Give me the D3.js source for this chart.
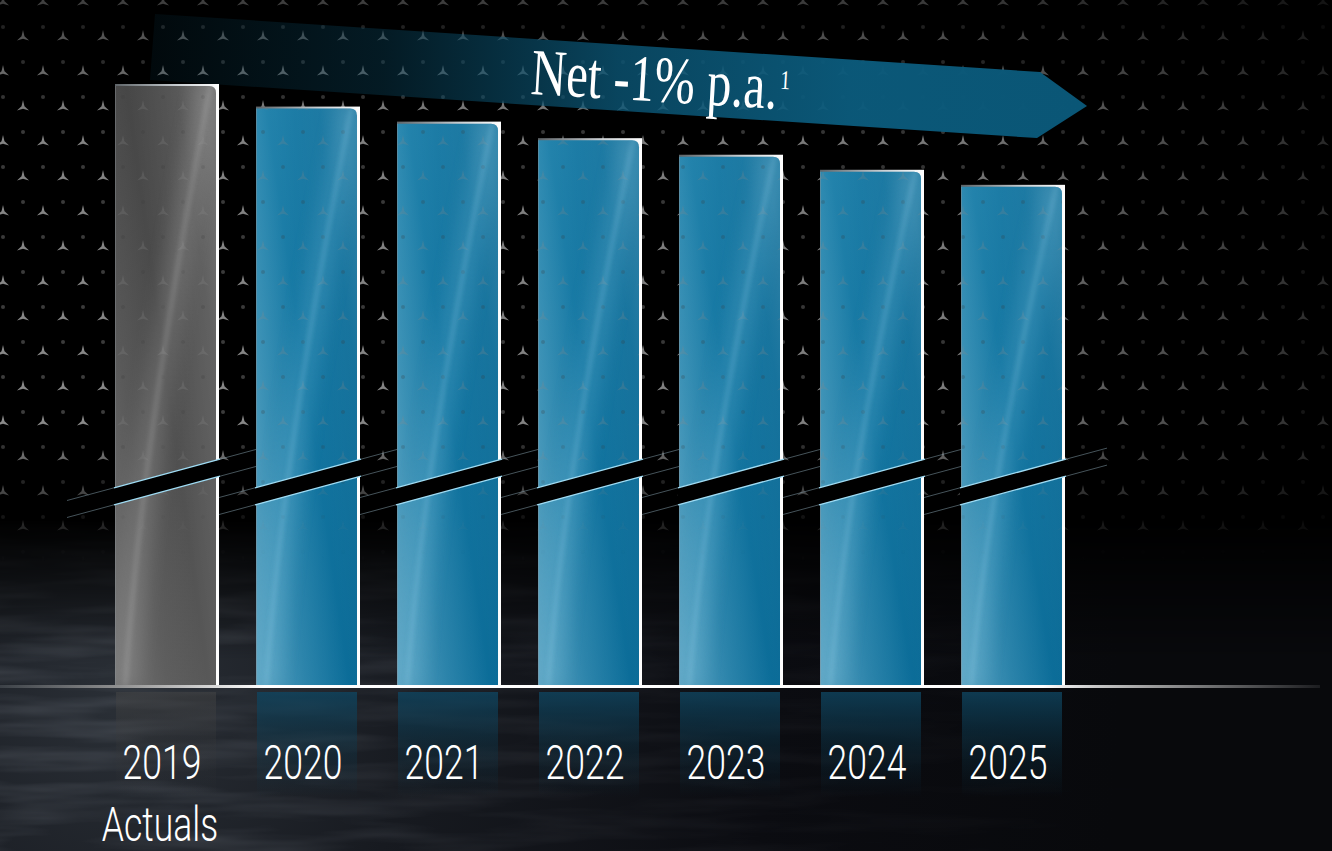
<!DOCTYPE html>
<html>
<head>
<meta charset="utf-8">
<script src="https://cdn.jsdelivr.net/npm/d3@7"></script>
<style>
  html, body { margin: 0; padding: 0; background: #000; overflow: hidden; }
  svg { display: block; }
</style>
</head>
<body>
<svg id="chart" width="1332" height="851"></svg>
<script>
// ---- data ----
const years = ["2019", "2020", "2021", "2022", "2023", "2024", "2025"];
const subLabels = ["Actuals", "", "", "", "", "", ""];
const values = [100, 98.5, 97.5, 96.4, 95.3, 94.3, 93.3];   // cost index, 2019 = 100
const titleText = "Net -1% p.a.";
const titleNote = "1";

// ---- layout ----
const W = 1332, H = 851;
const baseY = 686, topY = 84;
const breakY = 482;           // centre of the axis-break band
const breakSlope = 0.27;

const svg = d3.select("#chart");
const defs = svg.append("defs");

const x = d3.scaleBand().domain(years).range([115, 1065]).paddingInner(0.2624).paddingOuter(0);
const y = d3.scaleLinear().domain([60, 100]).range([baseY, topY]);

// ---- defs: star pattern ----
const pat = defs.append("pattern").attr("id", "stars")
  .attr("patternUnits", "userSpaceOnUse").attr("x", 3).attr("y", 2)
  .attr("width", 40).attr("height", 70);
function starPath(cx, cy, r, ri) {
  const pts = [];
  for (let k = 0; k < 6; k++) {
    const a = -Math.PI / 2 + k * Math.PI / 3;
    const rr = k % 2 ? ri : r;
    pts.push([cx + rr * Math.cos(a), cy + rr * Math.sin(a)]);
  }
  return "M" + pts.map(p => p.join(",")).join("L") + "Z";
}
[[0, 0], [40, 0], [0, 70], [40, 70], [20, 35]].forEach(([cx, cy]) => {
  pat.append("path").attr("d", starPath(cx, cy, 7, 1.7)).attr("fill", "#8a8a8a");
});
[[20, 60], [0, 25], [40, 25]].forEach(([cx, cy]) => {
  pat.append("circle").attr("cx", cx).attr("cy", cy).attr("r", 2).attr("fill", "#3c3c3c");
});

// generic gradient helper
function linGrad(id, x1, y1, x2, y2, stops, user) {
  const g = defs.append("linearGradient").attr("id", id)
    .attr("x1", x1).attr("y1", y1).attr("x2", x2).attr("y2", y2);
  if (user) g.attr("gradientUnits", "userSpaceOnUse");
  stops.forEach(s => g.append("stop").attr("offset", s[0]).attr("stop-color", s[1])
    .attr("stop-opacity", s[2] === undefined ? 1 : s[2]));
  return g;
}

// masks for star field
linGrad("fadeVGrad", 0, 0, 0, H, [[0, "#fff", 0.45], [0.14, "#fff", 0.95], [0.5, "#fff", 1], [0.66, "#fff", 0]], true);
linGrad("fadeHGrad", 0, 0, W, 0, [[0, "#fff", 1], [0.72, "#fff", 0.9], [1, "#fff", 0.3]], true);
defs.append("mask").attr("id", "fadeV").attr("maskUnits", "userSpaceOnUse")
  .attr("x", 0).attr("y", 0).attr("width", W).attr("height", H)
  .append("rect").attr("width", W).attr("height", H).attr("fill", "url(#fadeVGrad)");
defs.append("mask").attr("id", "fadeH").attr("maskUnits", "userSpaceOnUse")
  .attr("x", 0).attr("y", 0).attr("width", W).attr("height", H)
  .append("rect").attr("width", W).attr("height", H).attr("fill", "url(#fadeHGrad)");

// lower "water" area
const rg = defs.append("radialGradient").attr("id", "waterGrad")
  .attr("gradientUnits", "userSpaceOnUse").attr("cx", 120).attr("cy", 700).attr("r", 1000);
[[0, "#2a2f36"], [0.3, "#171a20"], [0.65, "#0b0c11"], [1, "#08090c"]]
  .forEach(s => rg.append("stop").attr("offset", s[0]).attr("stop-color", s[1]));
linGrad("waterFadeGrad", 0, 520, 0, 660, [[0, "#fff", 0], [1, "#fff", 1]], true);
defs.append("mask").attr("id", "waterFade").attr("maskUnits", "userSpaceOnUse")
  .attr("x", 0).attr("y", 0).attr("width", W).attr("height", H)
  .append("rect").attr("width", W).attr("height", H).attr("fill", "url(#waterFadeGrad)");
const wf = defs.append("filter").attr("id", "waves").attr("x", 0).attr("y", 0).attr("width", 1).attr("height", 1);
wf.append("feTurbulence").attr("type", "fractalNoise").attr("baseFrequency", "0.006 0.06")
  .attr("numOctaves", 3).attr("seed", 7);
wf.append("feColorMatrix").attr("type", "matrix")
  .attr("values", "0 0 0 0 0.55  0 0 0 0 0.6  0 0 0 0 0.68  0 0 0 1.3 -0.5");
linGrad("waveFadeGrad", 0, 0, W, 0, [[0, "#fff", 1], [0.4, "#fff", 0.45], [0.8, "#fff", 0.05], [1, "#fff", 0]], true);
defs.append("mask").attr("id", "waveFade").attr("maskUnits", "userSpaceOnUse")
  .attr("x", 0).attr("y", 0).attr("width", W).attr("height", H)
  .append("rect").attr("width", W).attr("height", H).attr("fill", "url(#waveFadeGrad)");

// banner gradient
linGrad("bannerGrad", 150, 0, 1087, 0, [
  [0, "#0b4a64", 0.12], [0.25, "#0b4e6a", 0.34], [0.5, "#0b5676", 0.8], [0.75, "#0b5a7b", 0.97], [1, "#0a5676", 1]
], true);

// bar gradients
linGrad("blueBody", 0, 0, 1, 0, [[0, "#2887af"], [0.4, "#1678a3"], [1, "#0a6b97"]]);
linGrad("grayBody", 0, 0, 1, 0, [[0, "#454545"], [0.5, "#4d4d4d"], [1, "#5a5a5a"]]);
linGrad("rim", 0, 0, 1, 0, [[0, "#5e6468"], [0.6, "#c9ced2"], [1, "#ffffff"]]);
linGrad("sheen", 0, 1, 1, 0.2, [[0, "#fff", 0.26], [0.3, "#fff", 0.1], [0.55, "#fff", 0], [0.85, "#fff", 0.05], [1, "#fff", 0.14]]);
linGrad("reflBlue", 0, 0, 0, 1, [[0, "#0f4560", 0.8], [0.55, "#0c3a50", 0.35], [1, "#0c3a50", 0]]);
linGrad("reflGray", 0, 0, 0, 1, [[0, "#474747", 0.5], [0.5, "#3a3a3a", 0.2], [1, "#3a3a3a", 0]]);
linGrad("baseGrad", 0, 0, 1320, 0, [
  [0, "#3c4147"], [0.1, "#9a9a9a"], [0.2, "#ffffff"], [0.79, "#ffffff"], [0.83, "#c8c8c8"], [1, "#1c1d20"]
], true);

const blur2 = defs.append("filter").attr("id", "blur2").attr("x", -0.5).attr("y", -0.1).attr("width", 2).attr("height", 1.2);
blur2.append("feGaussianBlur").attr("stdDeviation", 2.5);
const blur8 = defs.append("filter").attr("id", "blur8").attr("x", -0.5).attr("y", -0.1).attr("width", 2).attr("height", 1.2);
blur8.append("feGaussianBlur").attr("stdDeviation", 9);

// ---- background ----
svg.append("rect").attr("width", W).attr("height", H).attr("fill", "#000");

const water = svg.append("g").attr("mask", "url(#waterFade)");
water.append("rect").attr("y", 500).attr("width", W).attr("height", H - 500).attr("fill", "url(#waterGrad)");
water.append("g").attr("mask", "url(#waveFade)").attr("opacity", 0.25)
  .append("rect").attr("y", 500).attr("width", W).attr("height", H - 500).attr("filter", "url(#waves)");

svg.append("g").attr("mask", "url(#fadeH)")
  .append("rect").attr("width", W).attr("height", H)
  .attr("fill", "url(#stars)").attr("mask", "url(#fadeV)");

// ---- title banner ----
svg.append("path")
  .attr("d", "M155,14 L1040,72 L1087,106 L1037,138 L150,80 Z")
  .attr("fill", "url(#bannerGrad)");

const title = svg.append("text")
  .attr("transform", "translate(530,94) rotate(3.4) scale(0.74,1)")
  .attr("font-family", "'Liberation Serif', 'DejaVu Serif', serif")
  .attr("font-size", 66).attr("fill", "#fff");
title.append("tspan").text(titleText);
title.append("tspan").attr("font-size", 27).attr("dx", 3).attr("dy", -20).text(titleNote);

// ---- bars ----
const bars = years.map((yr, i) => ({
  year: yr, value: values[i], sub: subLabels[i], actual: subLabels[i] !== "",
  x0: x(yr), x1: x(yr) + x.bandwidth(), top: y(values[i]), cx: x(yr) + x.bandwidth() / 2
}));

const breakUpper = (d, xx) => breakY - 8.5 - breakSlope * (xx - d.cx);
const breakLower = (d, xx) => breakY + 8.5 - breakSlope * (xx - d.cx);

// faint extension lines of the axis breaks (sit behind neighbouring bars)
const ext = svg.append("g");
bars.forEach(d => {
  [breakUpper, breakLower].forEach(f => {
    ext.append("line")
      .attr("x1", d.cx - 100).attr("y1", f(d, d.cx - 100))
      .attr("x2", d.cx + 94).attr("y2", f(d, d.cx + 94))
      .attr("stroke", "#7f98a4").attr("stroke-width", 1).attr("opacity", 0.55);
  });
});

// reflections below the baseline
svg.append("g").selectAll("rect").data(bars).join("rect")
  .attr("x", d => d.x0 + 1).attr("y", 692)
  .attr("width", x.bandwidth() - 4).attr("height", 105)
  .attr("fill", d => d.actual ? "url(#reflGray)" : "url(#reflBlue)");

const bodyPath = d => {
  const xr = d.x1 - 3, t = d.top + 2, r = 7;
  return `M${d.x0},${t} L${xr - r},${t} Q${xr},${t} ${xr},${t + r} L${xr},${baseY} L${d.x0},${baseY} Z`;
};

bars.forEach((d, i) => {
  defs.append("clipPath").attr("id", "clip" + i).append("path").attr("d", bodyPath(d));
});

const barG = svg.append("g").selectAll("g").data(bars).join("g");

// rim (top and right edges)
barG.append("rect")
  .attr("x", d => d.x0).attr("y", d => d.top)
  .attr("width", x.bandwidth()).attr("height", d => baseY - d.top)
  .attr("fill", "url(#rim)");
// body
barG.append("path").attr("d", bodyPath)
  .attr("fill", d => d.actual ? "url(#grayBody)" : "url(#blueBody)");
// inner decoration, clipped to the body
const inner = barG.append("g").attr("clip-path", (d, i) => `url(#clip${i})`);
inner.append("rect")
  .attr("x", d => d.x0).attr("y", d => d.top)
  .attr("width", x.bandwidth()).attr("height", d => baseY - d.top)
  .attr("fill", "url(#sheen)");
inner.append("rect")
  .attr("x", d => d.x0).attr("y", d => d.top)
  .attr("width", x.bandwidth()).attr("height", d => baseY - d.top)
  .attr("fill", "url(#stars)").attr("opacity", 0.25).attr("mask", "url(#fadeV)");
const streak = d => {
  const w = x.bandwidth(), h = baseY - d.top;
  return `M${d.x0 + 0.92 * w},${d.top} Q${d.x0 + 0.25 * w},${d.top + 0.6 * h} ${d.x0 + 0.1 * w},${baseY}`;
};
inner.append("path").attr("d", streak).attr("fill", "none")
  .attr("stroke", d => d.actual ? "#bbbbbb" : "#7fc6e4").attr("stroke-width", 26)
  .attr("opacity", 0.2).attr("filter", "url(#blur8)");
inner.append("path").attr("d", streak).attr("fill", "none")
  .attr("stroke", d => d.actual ? "#cfcfcf" : "#a2dcf2").attr("stroke-width", 3)
  .attr("opacity", 0.3).attr("filter", "url(#blur2)");
// left edge
barG.append("line")
  .attr("x1", d => d.x0 + 0.5).attr("x2", d => d.x0 + 0.5)
  .attr("y1", d => d.top + 2).attr("y2", baseY)
  .attr("stroke", "#8a9095").attr("stroke-width", 1).attr("opacity", 0.45);

// axis break band across each bar
const brk = svg.append("g");
bars.forEach(d => {
  const a = d.x0 - 1, b = d.x1 + 1;
  brk.append("path")
    .attr("d", `M${a},${breakUpper(d, a)} L${b},${breakUpper(d, b)} L${b},${breakLower(d, b)} L${a},${breakLower(d, a)} Z`)
    .attr("fill", "#000");
  [breakUpper, breakLower].forEach(f => {
    brk.append("line")
      .attr("x1", a).attr("y1", f(d, a)).attr("x2", b).attr("y2", f(d, b))
      .attr("stroke", "#9fdcf4").attr("stroke-width", 1.4);
  });
});

// baseline
svg.append("rect").attr("x", 0).attr("y", baseY - 1).attr("width", 1320).attr("height", 3)
  .attr("fill", "url(#baseGrad)");

// ---- category labels ----
const labelFont = "Roboto, 'Open Sans', sans-serif";
svg.append("g").selectAll("text").data(bars).join("text")
  .attr("transform", d => `translate(${d.cx - 5},779) scale(0.74,1)`)
  .attr("text-anchor", "middle")
  .attr("font-family", labelFont).attr("font-weight", 300).attr("font-size", 48)
  .attr("fill", "#fff")
  .text(d => d.year);
svg.append("g").selectAll("text").data(bars.filter(d => d.sub)).join("text")
  .attr("transform", d => `translate(${d.cx - 7},841) scale(0.74,1)`)
  .attr("text-anchor", "middle")
  .attr("font-family", labelFont).attr("font-weight", 300).attr("font-size", 48)
  .attr("fill", "#fff")
  .text(d => d.sub);
</script>
</body>
</html>
